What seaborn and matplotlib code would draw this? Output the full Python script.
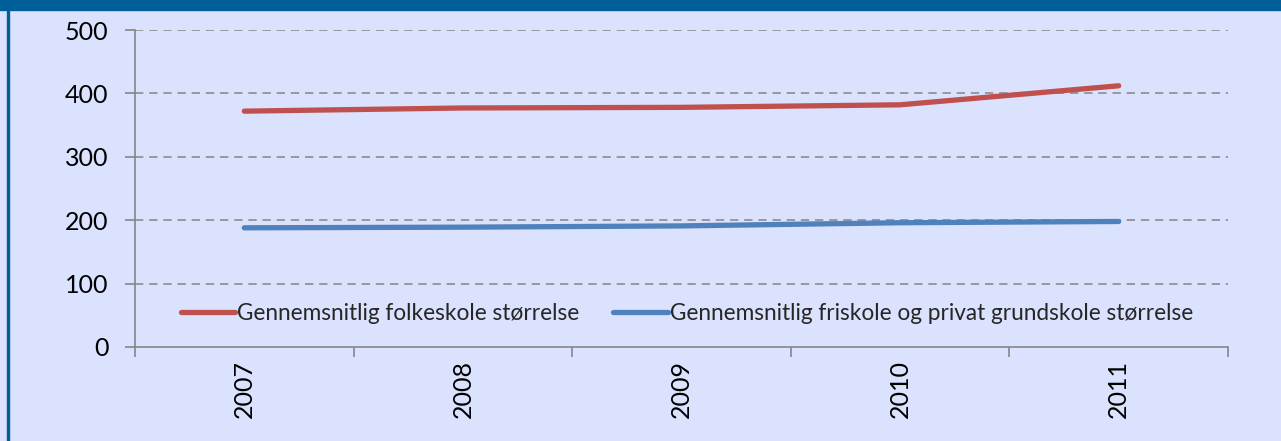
import matplotlib
matplotlib.use("Agg")
import matplotlib.pyplot as plt
import seaborn as sns
import pandas as pd
import numpy as np
from matplotlib.patches import Rectangle

years = ["2007", "2008", "2009", "2010", "2011"]
folkeskole = [372, 377, 378, 382, 412]
friskole = [188, 189, 191, 196, 198]
series_names = ["Gennemsnitlig folkeskole størrelse",
                "Gennemsnitlig friskole og privat grundskole størrelse"]
y_ticks = [0, 100, 200, 300, 400, 500]

sns.set_theme(style="white")
plt.rcParams['font.family'] = ['Lato', 'DejaVu Sans']

bg = "#DBE2FE"
fig = plt.figure(figsize=(12.81, 4.41), dpi=100, facecolor=bg)
ax = fig.add_axes([135/1281, 1-347/441, (1228-135)/1281, (347-30)/441])
ax.set_facecolor(bg)

df = pd.DataFrame({
    "x": list(range(len(years))) * 2,
    "value": folkeskole + friskole,
    "serie": [series_names[0]] * len(years) + [series_names[1]] * len(years),
})
sns.lineplot(data=df, x="x", y="value", hue="serie",
             palette=["#C0504D", "#4F81BD"], linewidth=3.8, ax=ax,
             solid_capstyle="round")

ax.set_xlim(-0.5, len(years) - 0.5)
ax.set_ylim(0, 500)
ax.set_yticks(y_ticks)
ax.set_yticklabels([str(t) for t in y_ticks], fontsize=18, color="black")
ax.set_xticks(range(len(years)))
ax.set_xticklabels(years, rotation=90, fontsize=18, color="black")
ax.set_xticks(np.arange(-0.5, len(years), 1.0), minor=True)
ax.tick_params(axis="x", which="major", length=0, pad=9)
ax.tick_params(axis="x", which="minor", length=7, width=1.2, color="#868686", bottom=True)
ax.tick_params(axis="y", which="major", length=7, width=1.2, color="#868686", left=True, pad=12)
ax.set_xlabel("")
ax.set_ylabel("")

for t in y_ticks[1:]:
    ax.axhline(t, color="#8C8C8C", linestyle=(0, (5, 3.5)), linewidth=1.2, zorder=0)

for s in ["top", "right"]:
    ax.spines[s].set_visible(False)
for s in ["left", "bottom"]:
    ax.spines[s].set_color("#868686")
    ax.spines[s].set_linewidth(1.2)

leg = ax.legend(loc="center", bbox_to_anchor=(0.505, 0.107), ncol=2, frameon=False,
                fontsize=16.3, handlelength=2.4, handletextpad=0.1, columnspacing=1.5)
for line in leg.get_lines():
    line.set_linewidth(3.8)
    line.set_solid_capstyle("round")

# top band and left border
fig.patches.append(Rectangle((0, 1-10/441), 1, 10/441, transform=fig.transFigure,
                             color="#005F96", zorder=5))
fig.patches.append(Rectangle((7/1281, 0), 2/1281, 1, transform=fig.transFigure,
                             color="#005F96", zorder=5))

fig.savefig("out.png", dpi=100, facecolor=bg)
